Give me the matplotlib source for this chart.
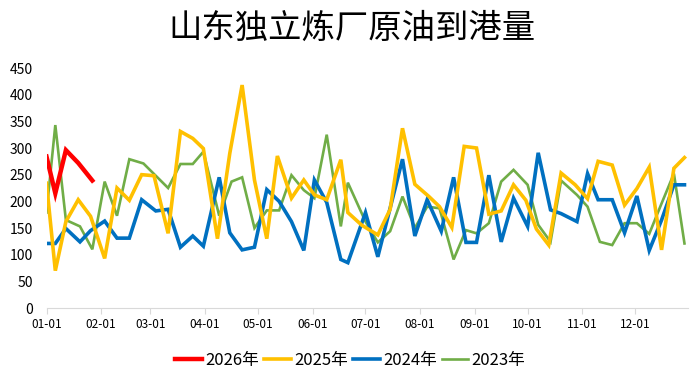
import matplotlib
matplotlib.use("Agg")
import matplotlib.pyplot as plt
import matplotlib.dates as mdates
import pandas as pd
import numpy as np

plt.rcParams['font.family'] = ['Noto Sans CJK SC', 'DejaVu Sans']

title = "山东独立炼厂原油到港量"

# day-of-year offsets (from 01-01) and values for each year
days_2026 = [0, 5, 11, 18, 26]
vals_2026 = [284, 215, 296, 272, 239]

days_2025 = [0, 5, 11, 18, 25, 33, 40, 47, 54, 61, 69, 76, 83, 89, 97, 104, 111, 118,
             125, 131, 139, 146, 152, 159, 167, 171, 179, 188, 195, 202, 209, 217, 223,
             230, 237, 244, 251, 258, 265, 272, 278, 285, 292, 300, 307, 313, 321, 328,
             335, 342, 349, 356, 362]
vals_2025 = [234, 70, 162, 203, 172, 93, 225, 202, 250, 248, 140, 331, 318, 299, 130, 290,
             418, 240, 130, 285, 206, 240, 212, 203, 278, 179, 155, 137, 185, 337, 232, 209,
             190, 151, 303, 300, 176, 182, 231, 202, 148, 118, 253, 231, 205, 275, 268, 193,
             224, 264, 109, 262, 282]

days_2024 = [0, 5, 11, 19, 25, 33, 40, 47, 54, 62, 69, 76, 83, 89, 98, 104, 111, 118,
             125, 132, 139, 146, 152, 159, 167, 171, 181, 188, 202, 209, 216, 224, 231,
             238, 244, 251, 258, 265, 273, 279, 286, 292, 301, 307, 313, 321, 328, 335,
             342, 349, 356, 362]
vals_2024 = [121, 121, 149, 124, 145, 163, 131, 131, 203, 182, 185, 114, 135, 116, 245, 141,
             109, 114, 222, 200, 162, 108, 240, 198, 91, 85, 179, 96, 279, 135, 203, 144,
             245, 123, 123, 249, 124, 206, 153, 291, 184, 177, 162, 252, 203, 203, 141, 210,
             108, 165, 231, 231]

days_2023 = [0, 5, 11, 19, 26, 33, 40, 47, 55, 69, 76, 83, 89, 98, 105, 111, 118, 125,
             132, 139, 146, 152, 159, 167, 171, 181, 188, 195, 202, 209, 216, 223, 231,
             238, 244, 251, 258, 265, 273, 279, 286, 292, 301, 307, 314, 321, 328, 335,
             342, 349, 356, 362]
vals_2023 = [179, 343, 165, 153, 110, 237, 173, 279, 271, 225, 270, 270, 293, 173, 237, 245,
             150, 183, 183, 249, 221, 206, 325, 153, 235, 162, 123, 144, 209, 150, 190, 187,
             91, 146, 140, 159, 237, 259, 231, 156, 124, 239, 212, 190, 124, 118, 159, 159,
             139, 196, 252, 121]

labels = ["2026年", "2025年", "2024年", "2023年"]
colors = ["#FF0000", "#FFC000", "#0070C0", "#70AD47"]
widths = [3.2, 2.6, 2.6, 1.9]

base = pd.Timestamp("2023-01-01")

def to_dates(days):
    return [base + pd.Timedelta(days=int(d)) for d in days]

fig = plt.figure(figsize=(6.94, 3.81), dpi=100)
ax = fig.add_axes([46.5 / 694, (381 - 308) / 381, (688 - 46.5) / 694, (308 - 68) / 381])

series = [(days_2026, vals_2026), (days_2025, vals_2025), (days_2024, vals_2024), (days_2023, vals_2023)]
order = [3, 2, 1, 0]
lines = {}
for i in order:
    d, v = series[i]
    ln, = ax.plot(to_dates(d), v, color=colors[i], lw=widths[i], label=labels[i],
                  solid_joinstyle='miter', zorder=2 + (3 - i))
    lines[i] = ln

ax.set_ylim(0, 450)
ax.set_yticks(np.arange(0, 451, 50))
ax.set_xlim(base, pd.Timestamp("2023-12-31"))
ax.xaxis.set_major_locator(mdates.MonthLocator())
ax.xaxis.set_major_formatter(mdates.DateFormatter("%m-%d"))

for s in ["top", "right", "left"]:
    ax.spines[s].set_visible(False)
ax.spines["bottom"].set_color("#D9D9D9")
ax.spines["bottom"].set_linewidth(0.8)
ax.tick_params(axis='y', length=0, labelsize=10, pad=10, colors="#000000")
ax.tick_params(axis='x', length=4, color="#D9D9D9", labelsize=8.5, pad=3)
for lab in ax.get_yticklabels() + ax.get_xticklabels():
    lab.set_color("#000000")

fig.text(0.507, 0.925, title, ha='center', va='center', fontsize=24, color="#000000")

leg = fig.legend([lines[i] for i in range(4)], labels, loc='center', bbox_to_anchor=(0.505, 0.053),
                 ncol=4, frameon=False, fontsize=12, handlelength=1.6, handletextpad=0.2,
                 columnspacing=0.3)

fig.savefig("out.png", dpi=100, facecolor="white")
